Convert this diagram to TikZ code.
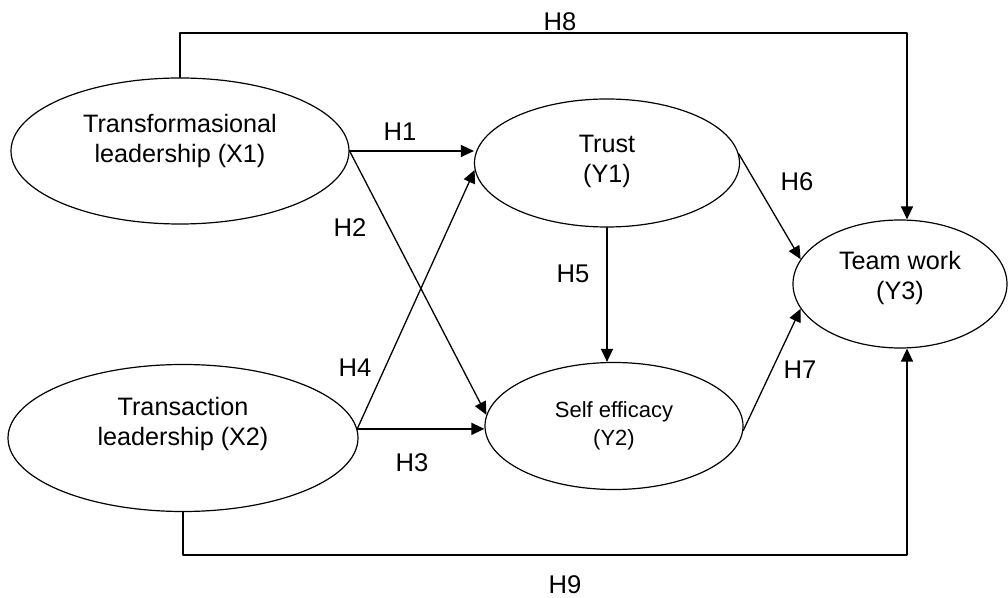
\documentclass[tikz,border=0pt]{standalone}
\usepackage{fontspec}
\setmainfont{Liberation Sans}
\usetikzlibrary{arrows.meta,shapes.geometric}

\begin{document}
\begin{tikzpicture}[x=0.5pt,y=-0.5pt,line cap=round,line join=round,
  latent/.style={ellipse,draw,line width=0.6pt,inner sep=0pt},
  pathlink/.style={line width=0.65pt,-{Triangle[length=6.5pt,width=6pt]}},
  hlabel/.style={font=\fontsize{12.8}{15}\selectfont},
  vlabel/.style={align=center,font=\fontsize{12.6}{15}\selectfont}]
\path[use as bounding box] (0,0) rectangle (1008,598);
% latent variables
\node[latent,minimum width=169pt,minimum height=73pt,
  label={[vlabel,yshift=5pt]center:Transformasional\\leadership (X1)}] (x1) at (180,151) {};
\node[latent,minimum width=175pt,minimum height=73.5pt,
  label={[vlabel,yshift=7pt]center:Transaction\\leadership (X2)}] (x2) at (183,438) {};
\node[latent,minimum width=132.5pt,minimum height=64pt,
  label={[vlabel,yshift=1pt]center:Trust\\(Y1)}] (y1) at (607,163) {};
\node[latent,minimum width=129pt,minimum height=63.5pt,
  label={[align=center,font=\fontsize{11}{14}\selectfont]center:Self efficacy\\(Y2)}] (y2) at (614,426) {};
\node[latent,minimum width=107pt,minimum height=64pt,
  label={[vlabel,yshift=3pt]center:Team work\\(Y3)}] (y3) at (900,284) {};
\coordinate (h8corner) at (907,33);
\coordinate (h9corner) at (907,555);
% hypotheses
\draw[pathlink] (x1.east) -- (x1.east -| y1.west);
\draw[pathlink] (x1.east) -- (y2.175);
\draw[pathlink] (x2.3) -- (x2.3 -| y2.west);
\draw[pathlink] (x2.3) -- (y1.183);
\draw[pathlink] (y1.south) -- (y1.south |- y2.north);
\draw[pathlink] (y1.4) -- (y3.166);
\draw[pathlink] (y2.358) -- (y3.194);
\draw[pathlink] (x1.north) |- (h8corner) -- (y3.north -| h8corner);
\draw[pathlink] (x2.south) |- (h9corner) -- (y3.south -| h9corner);
% labels
\node[hlabel] (lh1) at (400,132) {H1};
\node[hlabel] (lh2) at (350,228) {H2};
\node[hlabel] (lh3) at (412,463) {H3};
\node[hlabel] (lh4) at (355,368) {H4};
\node[hlabel] (lh5) at (573,274) {H5};
\node[hlabel] (lh6) at (797,182) {H6};
\node[hlabel] (lh7) at (800,370) {H7};
\node[hlabel] (lh8) at (560,22) {H8};
\node[hlabel] (lh9) at (565,585) {H9};
\end{tikzpicture}
\end{document}
